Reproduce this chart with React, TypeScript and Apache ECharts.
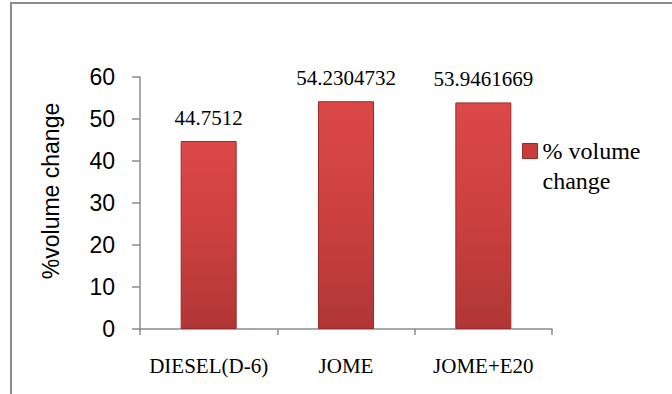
import React, { useEffect, useRef } from "react";
import * as echarts from "echarts";

const categories = ["DIESEL(D-6)", "JOME", "JOME+E20"];
const volumeChange = [44.7512, 54.2304732, 53.9461669];
const seriesName = "% volume change";
const yAxisName = "%volume change";

export default function App() {
  const ref = useRef<HTMLDivElement>(null);
  useEffect(() => {
    if (!ref.current) return;
    const chart = echarts.init(ref.current, null, { renderer: "svg" });
    const barFill = new echarts.graphic.LinearGradient(0, 0, 0, 1, [
      { offset: 0, color: "#dc4848" },
      { offset: 0.5, color: "#cc4040" },
      { offset: 1, color: "#b03636" },
    ]);
    chart.setOption({
      animation: false,
      backgroundColor: "#ffffff",
      graphic: [
        {
          type: "rect",
          shape: { x: 11, y: 3, width: 720, height: 440 },
          style: { fill: "none", stroke: "#8c8c8c", lineWidth: 2 },
          silent: true,
        },
      ],
      grid: { left: 140, right: 120, top: 77, bottom: 65, containLabel: false },
      legend: {
        left: 522,
        top: 106,
        padding: 0,
        orient: "vertical",
        icon: "rect",
        itemWidth: 15,
        itemHeight: 15,
        data: [seriesName],
        itemStyle: { color: "#c83c3c", borderColor: "#9a2a2a", borderWidth: 1 },
        formatter: () => "\n% volume\nchange",
        textStyle: {
          fontFamily: "Liberation Serif",
          fontSize: 24,
          lineHeight: 30,
          color: "#000",
        },
      },
      xAxis: {
        type: "category",
        data: categories,
        axisLine: { lineStyle: { color: "#8c8c8c", width: 1.5 } },
        axisTick: { show: true, length: 6, lineStyle: { color: "#8c8c8c", width: 1.5 } },
        axisLabel: {
          interval: 0,
          margin: 26,
          fontFamily: "Liberation Serif",
          fontSize: 21,
          color: "#000",
        },
      },
      yAxis: {
        type: "value",
        min: 0,
        max: 60,
        interval: 10,
        name: yAxisName,
        nameLocation: "middle",
        nameGap: 78,
        nameTextStyle: {
          fontFamily: "Liberation Sans",
          fontSize: 23,
          color: "#000",
          padding: [0, 0, 0, 24],
        },
        axisLine: { show: true, lineStyle: { color: "#8c8c8c", width: 1.5 } },
        axisTick: { show: true, length: 8, lineStyle: { color: "#8c8c8c", width: 1.5 } },
        splitLine: { show: false },
        axisLabel: {
          margin: 25,
          fontFamily: "Liberation Sans",
          fontSize: 23,
          color: "#000",
        },
      },
      series: [
        {
          name: seriesName,
          type: "bar",
          data: volumeChange,
          barWidth: 56,
          itemStyle: { color: barFill, borderColor: "#9a2a2a", borderWidth: 1 },
          label: {
            show: true,
            position: "top",
            distance: 13,
            formatter: "{c}",
            fontFamily: "Liberation Serif",
            fontSize: 21,
            color: "#000",
          },
        },
      ],
    });
    return () => chart.dispose();
  }, []);
  return (
    <div
      ref={ref}
      style={{ position: "absolute", left: 0, top: 0, width: 672, height: 394 }}
    />
  );
}
